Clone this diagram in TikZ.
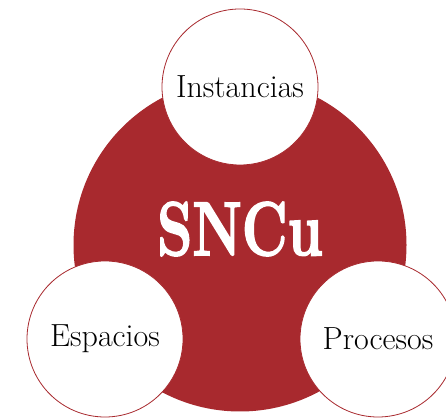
\documentclass[tikz,border=0pt]{standalone}
\usepackage{fontspec}
\usepackage{tikz}

\newfontfamily\titlefont[FakeBold=2.5]{Latin Modern Roman}
\definecolor{sncured}{HTML}{A8292E}

\begin{document}
\begin{tikzpicture}[x=1pt, y=1pt,
    core/.style={circle, fill=sncured, inner sep=0pt, minimum size=333pt},
    part/.style={circle, draw=sncured, line width=0.8pt, fill=white, inner sep=0pt,
                 minimum size=156pt, font=\fontsize{32}{38}\selectfont}]
    \useasboundingbox (0,0) rectangle (446,419);
    \clip (0,0) rectangle (446,419);

    % Center {core, title}
    \node [core]                 (core)  at (240,174) {};
    \node [text=white, font=\titlefont\fontsize{76}{90}\selectfont\bfseries, xscale=0.74]
                                 (title) at (240,190) {SNCu};

    % Parts {inst, esp, proc}
    \node [part]                 (inst)  at (240,332) {Instancias};
    \node [part]                 (esp)   at (105,80)  {Espacios};
    \node [part]                 (proc)  at (378,80)  {Procesos};

\end{tikzpicture}
\end{document}
